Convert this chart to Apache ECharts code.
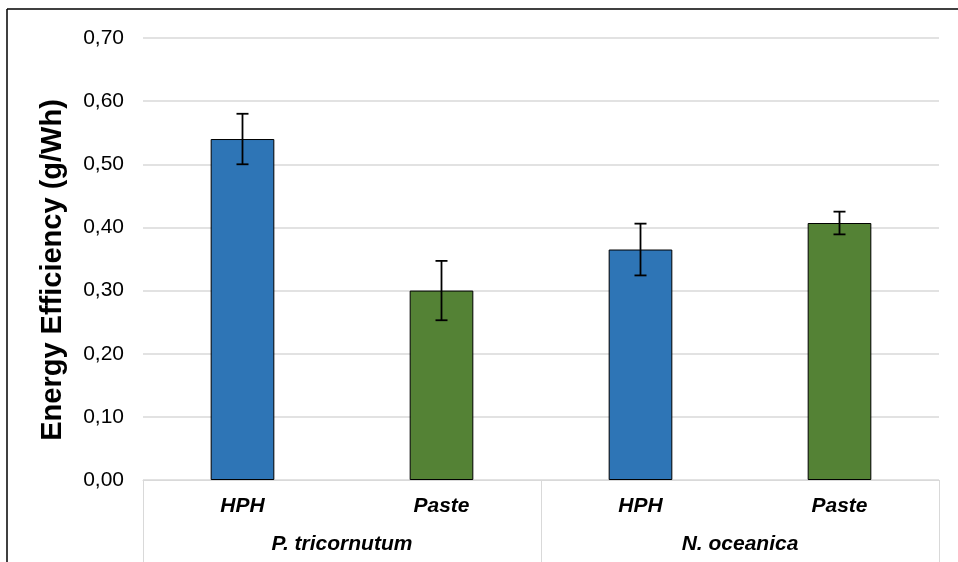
<!DOCTYPE html>
<html>
<head>
<meta charset="utf-8">
<script src="https://cdn.jsdelivr.net/npm/echarts@6/dist/echarts.min.js"></script>
<style>
  html, body { margin: 0; padding: 0; background: #fff; }
  #chart { width: 958px; height: 562px; }
</style>
</head>
<body>
<div id="chart"></div>
<script>
// data
var methods = ['HPH', 'Paste', 'HPH', 'Paste'];
var species = ['P. tricornutum', 'N. oceanica'];
var efficiency = [0.540, 0.300, 0.365, 0.407];
var errors = [0.040, 0.047, 0.041, 0.018];
var barColors = ['#2e75b6', '#548235', '#2e75b6', '#548235'];

var chart = echarts.init(document.getElementById('chart'));

var errData = efficiency.map(function (v, i) {
    return [i, v - errors[i], v + errors[i]];
});

var font = 'Liberation Sans, Arial, sans-serif';

var option = {
    animation: false,
    grid: { left: 143, right: 19, top: 38, bottom: 82 },
    xAxis: [
        {
            type: 'category',
            data: methods,
            axisLine: { lineStyle: { color: '#d9d9d9', width: 1 } },
            axisTick: { show: false },
            axisLabel: {
                margin: 16,
                color: '#000',
                fontFamily: font,
                fontSize: 21,
                fontWeight: 'bold',
                fontStyle: 'italic'
            }
        },
        {
            type: 'category',
            position: 'bottom',
            data: species,
            axisLine: { show: false },
            axisTick: { show: true, length: 82, alignWithLabel: false, lineStyle: { color: '#d9d9d9' } },
            axisLabel: {
                margin: 54,
                color: '#000',
                fontFamily: font,
                fontSize: 21,
                fontWeight: 'bold',
                fontStyle: 'italic'
            }
        }
    ],
    yAxis: {
        type: 'value',
        min: 0,
        max: 0.7,
        interval: 0.1,
        name: 'Energy Efficiency (g/Wh)',
        nameLocation: 'middle',
        nameGap: 76,
        nameTextStyle: {
            color: '#000',
            fontFamily: font,
            fontSize: 29,
            fontWeight: 'bold',
            padding: [0, 22, 0, 0]
        },
        axisLine: { show: false },
        axisTick: { show: false },
        axisLabel: {
            margin: 19,
            color: '#000',
            fontFamily: font,
            fontSize: 21,
            formatter: function (v) { return v.toFixed(2).replace('.', ','); }
        },
        splitLine: { lineStyle: { color: '#d9d9d9', width: 1.5 } }
    },
    series: [
        {
            type: 'bar',
            xAxisIndex: 0,
            barWidth: '32%',
            data: efficiency.map(function (v, i) {
                return { value: v, itemStyle: { color: barColors[i] } };
            }),
            itemStyle: { borderColor: '#000', borderWidth: 1 }
        },
        {
            type: 'custom',
            xAxisIndex: 0,
            data: errData,
            z: 10,
            renderItem: function (params, api) {
                var x = api.value(0);
                var lo = api.coord([x, api.value(1)]);
                var hi = api.coord([x, api.value(2)]);
                var cap = 6;
                var style = { stroke: '#000', lineWidth: 1.8 };
                return {
                    type: 'group',
                    children: [
                        { type: 'line', shape: { x1: hi[0], y1: hi[1], x2: lo[0], y2: lo[1] }, style: style },
                        { type: 'line', shape: { x1: hi[0] - cap, y1: hi[1], x2: hi[0] + cap, y2: hi[1] }, style: style },
                        { type: 'line', shape: { x1: lo[0] - cap, y1: lo[1], x2: lo[0] + cap, y2: lo[1] }, style: style }
                    ]
                };
            }
        }
    ],
    graphic: [
        { type: 'line', shape: { x1: 7, y1: 9, x2: 958, y2: 9 }, style: { stroke: '#000', lineWidth: 1.5 } },
        { type: 'line', shape: { x1: 7, y1: 9, x2: 7, y2: 562 }, style: { stroke: '#000', lineWidth: 1.5 } }
    ]
};

chart.setOption(option);
</script>
</body>
</html>
